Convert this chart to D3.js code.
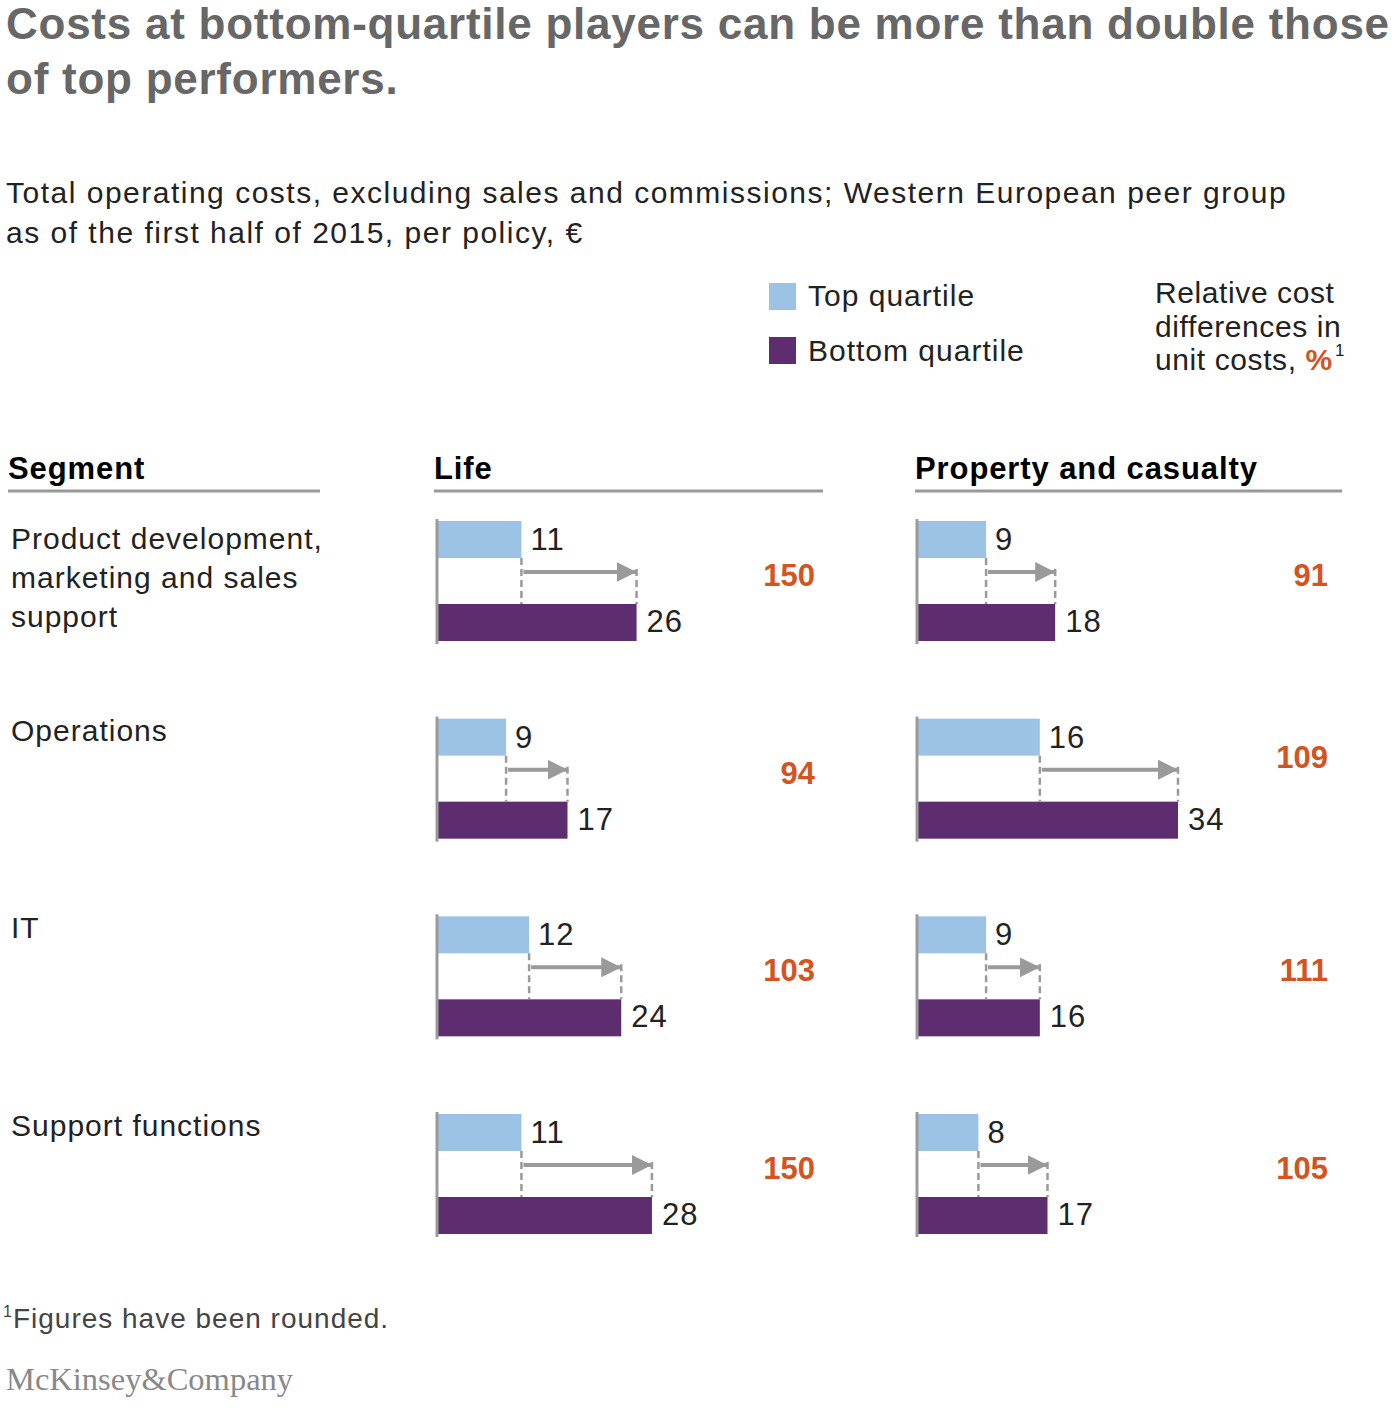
<!DOCTYPE html>
<html>
<head>
<meta charset="utf-8">
<script src="https://cdn.jsdelivr.net/npm/d3@7"></script>
<style>
  html, body { margin: 0; padding: 0; background: #fff; }
  svg { display: block; }
</style>
</head>
<body>
<svg id="chart" width="1400" height="1414"></svg>
<script>
// ---------- data ----------
const titleLines = ["Costs at bottom-quartile players can be more than double those", "of top performers."];
const subtitleLines = ["Total operating costs, excluding sales and commissions; Western European peer group", "as of the first half of 2015, per policy, €"];
const legendLabels = ["Top quartile", "Bottom quartile"];
const segments = [
  ["Product development,", "marketing and sales", "support"],
  ["Operations"],
  ["IT"],
  ["Support functions"]
];
const panels = ["Life", "Property and casualty"];
const lifeTop = [11, 9, 12, 11];
const lifeBottom = [26, 17, 24, 28];
const lifePct = [150, 94, 103, 150];
const pcTop = [9, 16, 9, 8];
const pcBottom = [18, 34, 16, 17];
const pcPct = [91, 109, 111, 105];
const footnote = "Figures have been rounded.";
const brand = "McKinsey&Company";

// ---------- style ----------
const C = {
  title: "#676767", text: "#222222", blue: "#9cc2e5", purple: "#5e2d70",
  orange: "#d4531f", grey: "#9a9a9a", rule: "#999999"
};
const sans = "'Liberation Sans', Arial, Helvetica, sans-serif";

const svg = d3.select("#chart");

// title
svg.append("g").selectAll("text").data(titleLines).join("text")
  .attr("x", 6).attr("y", (d, i) => 39 + i * 55)
  .attr("font-family", sans).attr("font-weight", "bold").attr("font-size", 44)
  .attr("letter-spacing", 0.75)
  .attr("fill", C.title).text(d => d);

// subtitle
svg.append("g").selectAll("text").data(subtitleLines).join("text")
  .attr("x", 6).attr("y", (d, i) => 203 + i * 40)
  .attr("font-family", sans).attr("font-size", 30).attr("letter-spacing", 1.5)
  .attr("fill", C.text).text(d => d);

// legend
const lg = svg.append("g");
lg.selectAll("rect").data(legendLabels).join("rect")
  .attr("x", 769).attr("y", (d, i) => 283 + i * 54)
  .attr("width", 27).attr("height", 27)
  .attr("fill", (d, i) => i === 0 ? C.blue : C.purple);
lg.selectAll("text").data(legendLabels).join("text")
  .attr("x", 808).attr("y", (d, i) => 306 + i * 55)
  .attr("font-family", sans).attr("font-size", 30).attr("letter-spacing", 1)
  .attr("fill", C.text)
  .text(d => d);

const rel = svg.append("g").attr("font-family", sans).attr("font-size", 30)
  .attr("letter-spacing", 0.6).attr("fill", C.text);
rel.append("text").attr("x", 1155).attr("y", 303).text("Relative cost");
rel.append("text").attr("x", 1155).attr("y", 337).text("differences in");
const t3 = rel.append("text").attr("x", 1155).attr("y", 370);
t3.append("tspan").text("unit costs, ");
t3.append("tspan").attr("font-weight", "bold").attr("fill", C.orange).text("%");
t3.append("tspan").attr("font-size", 17).attr("dy", -14).attr("dx", 2).text("1");

// headers
const headers = [
  { label: "Segment", x: 8, x2: 320 },
  { label: panels[0], x: 434, x2: 823 },
  { label: panels[1], x: 915, x2: 1342 }
];
const hg = svg.append("g");
hg.selectAll("text").data(headers).join("text")
  .attr("x", d => d.x).attr("y", 479)
  .attr("font-family", sans).attr("font-weight", "bold").attr("font-size", 31)
  .attr("letter-spacing", 0.9)
  .attr("fill", "#000").text(d => d.label);
hg.selectAll("line").data(headers).join("line")
  .attr("x1", d => d.x).attr("x2", d => d.x2).attr("y1", 491).attr("y2", 491)
  .attr("stroke", C.rule).attr("stroke-width", 3);

// rows
const rowY = d3.scaleLinear().domain([0, 3]).range([521, 1114]);
const x = d3.scaleLinear().domain([0, 34]).range([0, 261]);
const barH = 37, gapBottom = 83;

// segment labels
segments.forEach((lines, i) => {
  const off = lines.length > 1 ? 28 : 22;
  svg.append("g").selectAll("text").data(lines).join("text")
    .attr("x", 11).attr("y", (d, j) => rowY(i) + off + j * 39)
    .attr("font-family", sans).attr("font-size", 30).attr("letter-spacing", 1)
    .attr("fill", C.text)
    .text(d => d);
});

const panelDefs = [
  { x0: 437, pctX: 815, top: lifeTop, bottom: lifeBottom, pct: lifePct },
  { x0: 917, pctX: 1328, top: pcTop, bottom: pcBottom, pct: pcPct }
];
// label lift for individual percentage labels (layout only)
const pctLift = { "1-1": 16 };

svg.append("defs").append("marker")
  .attr("id", "arrow").attr("viewBox", "0 0 10 10")
  .attr("refX", 10).attr("refY", 5)
  .attr("markerWidth", 5).attr("markerHeight", 5).attr("markerUnits", "strokeWidth")
  .attr("orient", "auto")
  .append("path").attr("d", "M0,0 L10,5 L0,10 Z").attr("fill", C.grey);

panelDefs.forEach((p, pi) => {
  const g = svg.append("g").attr("transform", `translate(${p.x0},0)`);
  p.top.forEach((tv, i) => {
    const bv = p.bottom[i];
    const y0 = rowY(i);
    const rg = g.append("g");
    // bars
    rg.append("rect").attr("x", 0).attr("y", y0).attr("width", x(tv)).attr("height", barH).attr("fill", C.blue);
    rg.append("rect").attr("x", 0).attr("y", y0 + gapBottom).attr("width", x(bv)).attr("height", barH).attr("fill", C.purple);
    // axis line
    rg.append("line").attr("x1", 0).attr("x2", 0).attr("y1", y0 - 2).attr("y2", y0 + gapBottom + barH + 3)
      .attr("stroke", C.grey).attr("stroke-width", 3);
    // dashed guides
    rg.append("line").attr("x1", x(tv)).attr("x2", x(tv)).attr("y1", y0 + barH).attr("y2", y0 + gapBottom)
      .attr("stroke", C.grey).attr("stroke-width", 2.5).attr("stroke-dasharray", "7,4");
    rg.append("line").attr("x1", x(bv)).attr("x2", x(bv)).attr("y1", y0 + 48).attr("y2", y0 + gapBottom)
      .attr("stroke", C.grey).attr("stroke-width", 2.5).attr("stroke-dasharray", "7,4");
    // arrow
    rg.append("line").attr("x1", x(tv) + 2).attr("x2", x(bv)).attr("y1", y0 + 51).attr("y2", y0 + 51)
      .attr("stroke", C.grey).attr("stroke-width", 4).attr("marker-end", "url(#arrow)");
    // value labels
    rg.append("text").attr("x", x(tv) + 9).attr("y", y0 + 29)
      .attr("font-family", sans).attr("font-size", 31).attr("letter-spacing", 1)
      .attr("fill", C.text).text(tv);
    rg.append("text").attr("x", x(bv) + 10).attr("y", y0 + gapBottom + 28)
      .attr("font-family", sans).attr("font-size", 31).attr("letter-spacing", 1)
      .attr("fill", C.text).text(bv);
    // percentage
    svg.append("text").attr("x", p.pctX).attr("y", y0 + 65 - (pctLift[`${pi}-${i}`] || 0))
      .attr("text-anchor", "end")
      .attr("font-family", sans).attr("font-weight", "bold").attr("font-size", 31)
      .attr("fill", C.orange).text(p.pct[i]);
  });
});

// footnote
const fn = svg.append("text").attr("x", 3).attr("y", 1328)
  .attr("font-family", sans).attr("font-size", 28).attr("letter-spacing", 1)
  .attr("fill", "#444");
fn.append("tspan").attr("font-size", 16).attr("dy", -11).text("1");
fn.append("tspan").attr("dy", 11).text(footnote);

svg.append("text").attr("x", 6).attr("y", 1390)
  .attr("font-family", "'Liberation Serif', 'DejaVu Serif', serif").attr("font-size", 32.5)
  .attr("fill", "#888").text(brand);
</script>
</body>
</html>
